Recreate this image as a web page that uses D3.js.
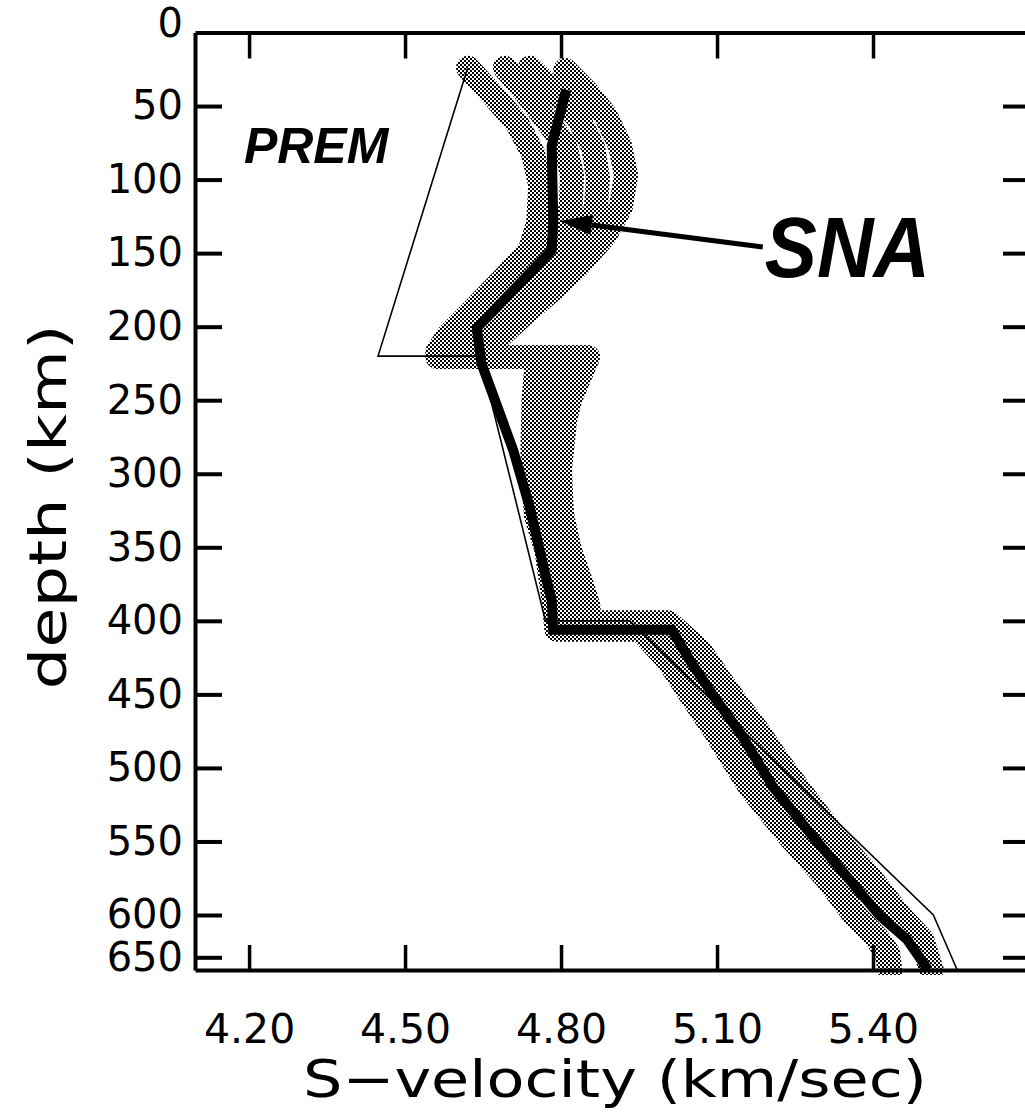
<!DOCTYPE html>
<html><head><meta charset="utf-8">
<script src="https://cdn.jsdelivr.net/npm/d3@7"></script>
<style>body{margin:0;background:#fff;} svg{display:block;}</style>
</head><body>
<svg id="chart" width="1025" height="1112"></svg>
<script>
// ---- data (velocity km/s, depth km) ----
const depthTicks = [0,50,100,150,200,250,300,350,400,450,500,550,600,650];
const velocityTicks = [4.20,4.50,4.80,5.10,5.40];

const premVelocity = [4.620,4.448,4.644,4.770,4.932,5.516,5.562];
const premDepth    = [24.4, 220,  220,  400,  400,  600,  665];

const snaVelocity = [4.810,4.782,4.785,4.782,4.638,4.647,4.708,4.740,4.772,4.782,4.785,5.013,5.048,5.099,5.144,5.208,5.285,5.350,5.413,5.465,5.496,5.506];
const snaDepth    = [39,   77,   128,  148,  201,  225,  284,  323,  372,  386,  406,  406,  427,  454,  476,  513,  547,  574,  601,  628.6,656,  665];

const model1Velocity = [4.621,4.669,4.715,4.746,4.760,4.756,4.740,4.688,4.625,4.583,4.562,4.562,4.852,4.842,4.817,4.798,4.792,4.794,4.804,4.817,4.837,4.852,4.856,5.006,5.067,5.100,5.138,5.177,5.221,5.263,5.327,5.394,5.452,5.494,5.513];
const model1Depth    = [24,   42.5, 61.5, 82,   104,  129.5,148,  168,  191,  206,  217,  220.6,220.6,229,  250,  270,  291,  311,  331.5,352,  372,  389,  401,  401,  420,  437,  456,  474,  497,  517,  547,  574,  601,  628.6,665];

const model2Velocity = [4.740,4.788,4.833,4.862,4.871,4.867,4.846,4.804,4.760,4.712,4.673,4.644,4.625,4.772,4.752,4.747,4.745,4.747,4.752,4.772,4.785,4.791,4.952,5.006,5.056,5.098,5.163,5.240,5.308,5.365,5.410,5.429,5.433];
const model2Depth    = [24,   40.4, 58.1, 78.5, 98.9, 119.3,138.3,156,  171.6,187.3,200.9,212.4,220.6,220.6,229,  250,  284,  306,  329,  352,  384,  406,  406,  427,  454,  476,  513,  547,  574,  601,  628.6,645,  665];

const model3Velocity = [4.808,4.846,4.885,4.913,4.925,4.915,4.885,4.833,4.779,4.721,4.679,4.654,4.654,4.846,4.827,4.808,4.798,4.802,4.821,4.840,4.846,4.981,5.037,5.077,5.119,5.183,5.250,5.317,5.380,5.450,5.492,5.512];
const model3Depth    = [25.5, 39,   56,   76.5, 97,   118.6,137.7,158.7,176.4,194,  207.7,217.2,220.6,220.6,236,  263,  297,  331.5,365,  392.6,403,  403,  423,  447,  466,  495,  525,  559,  580,  601,  628.6,665];

const model4Velocity = [4.692,4.731,4.769,4.808,4.821,4.819,4.808,4.771,4.727,4.679,4.637,4.602,4.587,4.808,4.790,4.775,4.769,4.773,4.785,4.802,4.813,4.817,4.971,5.025,5.071,5.110,5.173,5.240,5.310,5.360,5.405,5.426,5.432];
const model4Depth    = [24,   40.4, 58.1, 76.5, 96.9, 117.3,135.6,153.3,170.3,185.9,200.9,212.4,220.6,220.6,236.2,263.4,290.6,317.8,345,  372.2,392.6,403.4,403.4,424.5,448.3,467.4,495.9,527.2,560.5,598,  626,  645,  665];

const grayModels = [
  {v: model1Velocity, d: model1Depth},
  {v: model2Velocity, d: model2Depth},
  {v: model3Velocity, d: model3Depth},
  {v: model4Velocity, d: model4Depth}
];

// ---- scales (depth axis as drawn in the figure: last interval is compressed) ----
const x = d3.scaleLinear().domain([4.096, 5.70]).range([195, 1029]);
const y = d3.scaleLinear().domain([0, 600, 665]).range([32.5, 915, 970]);
const yBottom = 665;

const svg = d3.select('#chart');
const defs = svg.append('defs');
const pat = defs.append('pattern').attr('id','ht').attr('patternUnits','userSpaceOnUse')
  .attr('width',4).attr('height',4);
pat.append('rect').attr('x',0).attr('y',0).attr('width',2).attr('height',2).attr('fill','#000');
pat.append('rect').attr('x',2).attr('y',2).attr('width',2).attr('height',2).attr('fill','#000');
defs.append('clipPath').attr('id','plotclip').append('rect')
  .attr('x',195).attr('y',32).attr('width',840).attr('height',943);

const zip = (v,d) => v.map((vv,i)=>[vv,d[i]]);
const line = d3.line().x(p=>x(p[0])).y(p=>y(p[1]));

const plot = svg.append('g').attr('clip-path','url(#plotclip)');

plot.selectAll('path.gray').data(grayModels).enter().append('path')
  .attr('class','gray')
  .attr('d', m=>line(zip(m.v,m.d)))
  .attr('fill','none').attr('stroke','url(#ht)').attr('stroke-width',24)
  .attr('stroke-linejoin','round').attr('stroke-linecap','round');

plot.append('path').attr('d', line(zip(premVelocity,premDepth)))
  .attr('fill','none').attr('stroke','#000').attr('stroke-width',1.6).attr('stroke-linejoin','miter');

plot.append('path').attr('d', line(zip(snaVelocity,snaDepth)))
  .attr('fill','none').attr('stroke','#000').attr('stroke-width',10).attr('stroke-linejoin','miter');

// ---- axes ----
const FONT = 'DejaVu Sans';
function styleAxis(g, w){
  g.select('.domain').attr('stroke-width',4);
  g.selectAll('.tick line').attr('stroke-width',w);
  g.selectAll('text').attr('font-family',FONT).attr('font-size',41).attr('fill','#000');
}
const gB = svg.append('g').attr('transform',`translate(0,${y(yBottom)})`)
  .call(d3.axisBottom(x).tickValues(velocityTicks).tickSize(-25).tickSizeOuter(0).tickPadding(44).tickFormat(d3.format('.2f')));
styleAxis(gB,3.5);
const gT = svg.append('g').attr('transform',`translate(0,${y(0)})`)
  .call(d3.axisTop(x).tickValues(velocityTicks).tickSize(-26).tickSizeOuter(0).tickFormat(''));
styleAxis(gT,3.5);
const gL = svg.append('g').attr('transform',`translate(${x(4.096)},0)`)
  .call(d3.axisLeft(y).tickValues(depthTicks).tickSize(-27).tickSizeOuter(0).tickPadding(12));
styleAxis(gL,4);
gL.selectAll('text').attr('font-size',40);
gL.selectAll('.tick').filter(d=>d===0).select('line').remove();
gL.selectAll('.tick').filter(d=>d===0).select('text').attr('dy','0.1em');
const gR = svg.append('g').attr('transform',`translate(${x(5.70)},0)`)
  .call(d3.axisRight(y).tickValues(depthTicks.filter(d=>d>0)).tickSize(-26).tickSizeOuter(0).tickFormat(''));
styleAxis(gR,4);

// ---- titles ----
svg.append('text').attr('x',615).attr('y',1097).attr('text-anchor','middle')
  .attr('font-family',FONT).attr('font-size',52)
  .attr('textLength',624).attr('lengthAdjust','spacingAndGlyphs')
  .text('S\u2212velocity  (km/sec)');
svg.append('text').attr('transform','translate(66,507) rotate(-90)').attr('text-anchor','middle')
  .attr('font-family',FONT).attr('font-size',52)
  .attr('textLength',365).attr('lengthAdjust','spacingAndGlyphs')
  .text('depth  (km)');

// ---- annotations ----
svg.append('text').attr('x',x(4.19)).attr('y',y(88.7))
  .attr('font-family','Liberation Sans').attr('font-weight','bold').attr('font-style','italic')
  .attr('font-size',50).text('PREM');
svg.append('text').attr('x',x(5.192)).attr('y',y(166))
  .attr('font-family','Liberation Sans').attr('font-weight','bold').attr('font-style','italic')
  .attr('font-size',86).attr('textLength',165).attr('lengthAdjust','spacingAndGlyphs').text('SNA');

const tip = [x(4.798), y(128.1)], tail = [x(5.188), y(145.8)];
const ang = Math.atan2(tip[1]-tail[1], tip[0]-tail[0]);
const hl = 32, hw = 10;
const base = [tip[0]-hl*Math.cos(ang), tip[1]-hl*Math.sin(ang)];
svg.append('line').attr('x1',tail[0]).attr('y1',tail[1]).attr('x2',base[0]).attr('y2',base[1])
  .attr('stroke','#000').attr('stroke-width',5);
svg.append('polygon').attr('points',[
  tip,
  [base[0]+hw*Math.sin(ang), base[1]-hw*Math.cos(ang)],
  [base[0]-hw*Math.sin(ang), base[1]+hw*Math.cos(ang)]
].map(p=>p.join(',')).join(' ')).attr('fill','#000');
</script>
</body></html>
